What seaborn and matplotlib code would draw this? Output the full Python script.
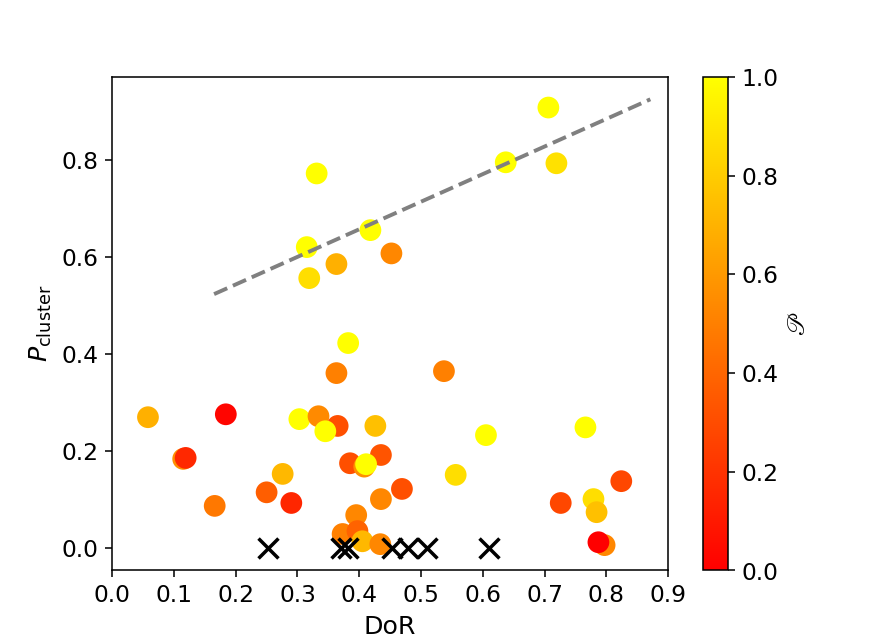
import numpy as np
import pandas as pd
import seaborn as sns
import matplotlib
import matplotlib.pyplot as plt
from matplotlib.colors import Normalize
from matplotlib.cm import ScalarMappable

# DoR, P_cluster and colour value (script P) of each cluster
dor = [0.706, 0.331, 0.637, 0.719, 0.315, 0.319, 0.363, 0.418, 0.452, 0.382,
       0.363, 0.537, 0.058, 0.184, 0.303, 0.334, 0.365, 0.345, 0.426, 0.115,
       0.119, 0.385, 0.435, 0.408, 0.411, 0.276, 0.250, 0.290, 0.166, 0.469,
       0.435, 0.395, 0.373, 0.397, 0.405, 0.434, 0.605, 0.556, 0.766, 0.824,
       0.726, 0.779, 0.784, 0.797, 0.787]
p_cluster = [0.909, 0.773, 0.796, 0.794, 0.621, 0.557, 0.586, 0.656, 0.608, 0.423,
             0.361, 0.365, 0.270, 0.276, 0.266, 0.272, 0.252, 0.241, 0.252, 0.184,
             0.186, 0.175, 0.192, 0.168, 0.173, 0.153, 0.115, 0.093, 0.087, 0.122,
             0.101, 0.068, 0.029, 0.035, 0.014, 0.008, 0.233, 0.151, 0.249, 0.138,
             0.093, 0.101, 0.074, 0.006, 0.012]
p_value = [1.00, 1.00, 1.00, 0.88, 1.00, 0.87, 0.69, 1.00, 0.53, 1.00,
           0.50, 0.50, 0.69, 0.02, 1.00, 0.54, 0.31, 1.00, 0.75, 0.56,
           0.16, 0.31, 0.33, 0.56, 1.00, 0.72, 0.37, 0.15, 0.47, 0.31,
           0.53, 0.53, 0.50, 0.39, 0.72, 0.53, 1.00, 0.87, 1.00, 0.28,
           0.28, 0.87, 0.75, 0.53, 0.00]

# clusters without a P_cluster value (drawn at zero)
dor_zero = [0.253, 0.371, 0.382, 0.453, 0.479, 0.510, 0.610]
p_zero = [0, 0, 0, 0, 0, 0, 0]

# trend line
trend_x = [0.165, 0.871]
trend_y = [0.524, 0.926]

x_ticks = [0.0, 0.1, 0.2, 0.3, 0.4, 0.5, 0.6, 0.7, 0.8, 0.9]

df = pd.DataFrame({"DoR": dor, "Pcl": p_cluster, "P": p_value})

fig, ax = plt.subplots(figsize=(6.407, 4.579), dpi=140)

sns.scatterplot(data=df, x="DoR", y="Pcl", hue="P", palette="autumn",
                hue_norm=(0, 1), s=125, linewidth=0, legend=False, ax=ax)
sns.lineplot(x=trend_x, y=trend_y, color="gray", linestyle="--", lw=2, ax=ax)
sns.scatterplot(x=dor_zero, y=p_zero, marker="x", color="k", s=105,
                linewidth=1.8, ax=ax)

ax.set_xlim(0, 0.9)
ax.set_xticks(x_ticks)
ax.set_xlabel("DoR", fontsize=13)
ax.set_ylabel(r"$P_{\mathrm{cluster}}$", fontsize=13)
ax.tick_params(labelsize=12)

sm = ScalarMappable(norm=Normalize(0, 1), cmap="autumn")
cbar = fig.colorbar(sm, ax=ax)
cbar.set_label(r"$\mathscr{P}$", fontsize=13)
cbar.ax.tick_params(labelsize=12)

fig.savefig("out.png", dpi=140)
